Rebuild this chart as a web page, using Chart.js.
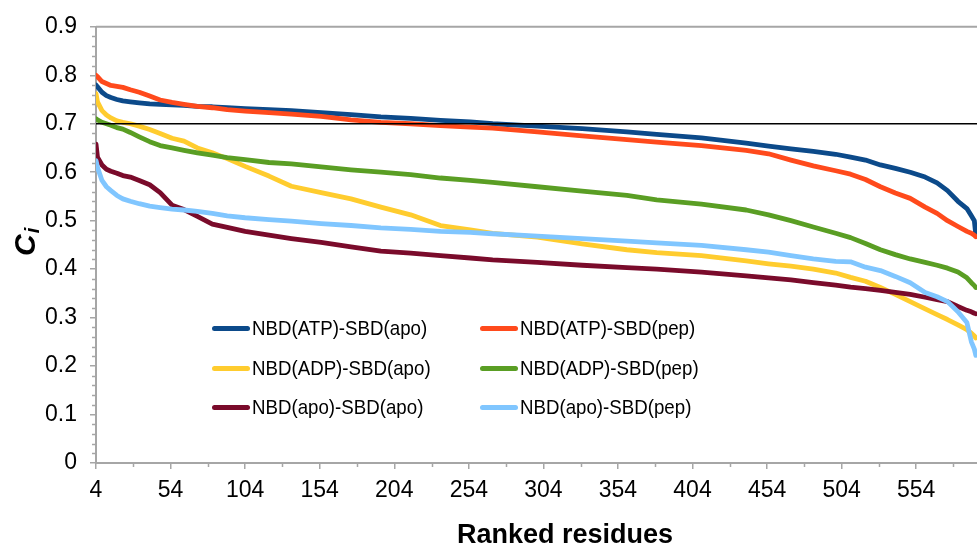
<!DOCTYPE html>
<html>
<head>
<meta charset="utf-8">
<script src="https://cdn.jsdelivr.net/npm/chart.js@4.4.1/dist/chart.umd.min.js"></script>
<style>
  html, body { margin: 0; padding: 0; background: #fff; overflow: hidden; }
  #wrap { position: relative; width: 977px; height: 549px; overflow: hidden; }
  #c { display: block; }
  #legend { position: absolute; left: 0; top: 0; font-family: "Liberation Sans", Arial, sans-serif; font-size: 21px; color: #000; }
  .item { position: absolute; white-space: nowrap; display: flex; align-items: center; height: 30px; }
  .swatch { display: inline-block; width: 38px; height: 5px; border-radius: 3px; margin-right: 2px; }
  .txt { display: inline-block; transform: scaleX(0.89); transform-origin: left center; }
</style>
</head>
<body>
<div id="wrap">
  <canvas id="c" width="1034" height="549"></canvas>
  <div id="legend"></div>
</div>
<script>
// ---------------- data ----------------
const ranks = [4,5,8,11,14,18,22,27,33,40,47,55,63,72,82,92,104,120,135,155,175,195,215,235,255,270,300,330,360,380,410,440,455,470,485,500,510,520,530,540,550,560,568,575,582,588,591,593,594];

const atpApo = [0.780,0.776,0.765,0.758,0.754,0.750,0.747,0.745,0.743,0.741,
                0.740,0.739,0.738,0.736,0.735,0.733,0.731,0.729,0.727,0.723,
                0.719,0.714,0.711,0.707,0.704,0.700,0.695,0.690,0.683,0.678,
                0.671,0.660,0.654,0.648,0.643,0.637,0.631,0.625,0.615,0.608,
                0.600,0.590,0.578,0.562,0.540,0.525,0.510,0.500,0.470];

const atpPep = [0.800,0.797,0.787,0.783,0.779,0.777,0.775,0.770,0.765,0.757,
                0.749,0.744,0.740,0.736,0.733,0.729,0.726,0.723,0.720,0.715,
                0.708,0.703,0.700,0.696,0.693,0.691,0.683,0.675,0.667,0.662,
                0.655,0.645,0.638,0.625,0.613,0.603,0.596,0.585,0.570,0.557,
                0.546,0.528,0.515,0.500,0.488,0.478,0.474,0.470,0.467];

const adpApo = [0.762,0.745,0.727,0.718,0.712,0.706,0.703,0.700,0.695,0.688,
                0.680,0.670,0.664,0.650,0.640,0.628,0.612,0.592,0.571,0.558,
                0.545,0.528,0.512,0.490,0.481,0.474,0.466,0.452,0.440,0.434,
                0.428,0.417,0.411,0.406,0.400,0.392,0.383,0.375,0.362,0.348,
                0.333,0.318,0.306,0.296,0.285,0.275,0.268,0.262,0.258];

const adpPep = [0.710,0.708,0.703,0.700,0.697,0.692,0.689,0.682,0.673,0.663,
                0.655,0.650,0.645,0.640,0.635,0.630,0.626,0.620,0.617,0.611,
                0.605,0.600,0.595,0.588,0.583,0.579,0.570,0.561,0.552,0.543,
                0.534,0.522,0.512,0.500,0.487,0.474,0.465,0.453,0.440,0.430,
                0.421,0.414,0.408,0.402,0.394,0.382,0.372,0.366,0.362];

const apoApo = [0.658,0.631,0.615,0.606,0.602,0.598,0.593,0.590,0.583,0.574,
                0.558,0.532,0.523,0.509,0.493,0.486,0.478,0.470,0.463,0.455,
                0.446,0.437,0.433,0.428,0.423,0.419,0.414,0.408,0.403,0.400,
                0.394,0.386,0.382,0.378,0.372,0.367,0.363,0.360,0.356,0.352,
                0.348,0.342,0.337,0.333,0.323,0.315,0.312,0.309,0.308];

const apoPep = [0.624,0.610,0.583,0.570,0.562,0.552,0.545,0.540,0.535,0.530,
                0.527,0.524,0.522,0.519,0.515,0.510,0.506,0.502,0.499,0.494,
                0.490,0.485,0.482,0.478,0.476,0.473,0.468,0.463,0.458,0.454,
                0.449,0.440,0.435,0.428,0.421,0.416,0.415,0.404,0.397,0.385,
                0.372,0.352,0.343,0.333,0.312,0.290,0.250,0.235,0.222];

const seriesLabels = ['NBD(ATP)-SBD(apo)','NBD(ATP)-SBD(pep)','NBD(ADP)-SBD(apo)','NBD(ADP)-SBD(pep)','NBD(apo)-SBD(apo)','NBD(apo)-SBD(pep)'];
const seriesValues = [atpApo, atpPep, adpApo, adpPep, apoApo, apoPep];
const xTickValues = [4,54,104,154,204,254,304,354,404,454,504,554];
const yTickValues = [0,0.1,0.2,0.3,0.4,0.5,0.6,0.7,0.8,0.9];
const referenceLevel = 0.7;
const xMin = 4, xMax = 633;
const xTitle = 'Ranked residues';
const yTitleMain = 'C', yTitleSub = 'i';

// ---------------- styles ----------------
const seriesColors = ['#0c4a8a','#ff4a1c','#ffcc2e','#5a9e24','#7a0b2b','#80c6ff'];
const axisColor = '#a6a6a6';
const FONT = '"Liberation Sans", Arial, sans-serif';

const datasets = seriesValues.map((vals, i) => ({
  label: seriesLabels[i],
  data: ranks.map((r, j) => ({ x: r, y: vals[j] })),
  borderColor: seriesColors[i],
  backgroundColor: seriesColors[i],
  borderWidth: 4.8,
  pointRadius: 0,
  tension: 0,
  fill: false,
  borderCapStyle: 'round',
  borderJoinStyle: 'round',
  order: 6 - i
}));
datasets.push({
  label: 'reference',
  data: [{ x: xMin, y: referenceLevel }, { x: xMax, y: referenceLevel }],
  borderColor: '#000',
  borderWidth: 1.6,
  pointRadius: 0,
  fill: false,
  order: -1
});

const decor = {
  id: 'decor',
  afterDraw(chart) {
    const { ctx, chartArea: a, scales: { x, y } } = chart;
    ctx.save();
    ctx.strokeStyle = axisColor;
    ctx.lineWidth = 1.5;
    ctx.beginPath();
    // minor x ticks
    for (let i = 0; i < xTickValues.length; i++) {
      const v = xTickValues[i] + 25;
      const px = Math.round(x.getPixelForValue(v)) + 0.5;
      ctx.moveTo(px, a.bottom); ctx.lineTo(px, a.bottom + 4);
    }
    // minor y ticks
    for (let k = 1; k < 45; k++) {
      if (k % 5 === 0) continue;
      const py = Math.round(y.getPixelForValue(k * 0.02)) + 0.5;
      ctx.moveTo(a.left - 4, py); ctx.lineTo(a.left, py);
    }
    ctx.stroke();
    // top border of plot area
    ctx.lineWidth = 2;
    ctx.beginPath();
    ctx.moveTo(a.left, a.top); ctx.lineTo(a.right, a.top);
    ctx.stroke();
    // y title with subscript
    ctx.translate(35, 256);
    ctx.rotate(-Math.PI / 2);
    ctx.fillStyle = '#000';
    ctx.textBaseline = 'alphabetic';
    ctx.textAlign = 'left';
    ctx.font = 'italic bold 30px ' + FONT;
    ctx.fillText(yTitleMain, 0, 0);
    const w = ctx.measureText(yTitleMain).width;
    ctx.font = 'italic bold 20px ' + FONT;
    ctx.fillText(yTitleSub, w + 1, 4);
    ctx.restore();
  }
};

new Chart(document.getElementById('c'), {
  type: 'line',
  data: { datasets },
  options: {
    responsive: false,
    animation: false,
    devicePixelRatio: 1,
    layout: { padding: { top: 26, right: 0, left: 0, bottom: 0 } },
    plugins: { legend: { display: false }, tooltip: { enabled: false } },
    scales: {
      x: {
        type: 'linear',
        min: xMin, max: xMax,
        afterBuildTicks: s => { s.ticks = xTickValues.map(v => ({ value: v })); },
        afterFit: s => { s.height = 86; },
        ticks: { font: { family: FONT, size: 23 }, color: '#000', padding: 8, maxRotation: 0, autoSkip: false, callback: v => String(v) },
        grid: { display: true, drawOnChartArea: false, drawTicks: true, tickLength: 6, color: axisColor, lineWidth: 1.5 },
        border: { display: true, color: axisColor, width: 2 },
        title: { display: true, text: xTitle, color: '#000', font: { family: FONT, size: 27, weight: 'bold', lineHeight: 1 }, padding: { top: 0, bottom: 0 } }
      },
      y: {
        type: 'linear',
        min: 0, max: 0.9,
        afterBuildTicks: s => { s.ticks = yTickValues.map(v => ({ value: v })); },
        afterFit: s => { s.width = 96; },
        ticks: { font: { family: FONT, size: 23 }, color: '#000', padding: 13, callback: v => (v === 0 ? '0' : v.toFixed(1)) },
        grid: { display: true, drawOnChartArea: false, drawTicks: true, tickLength: 6, color: axisColor, lineWidth: 1.5 },
        border: { display: true, color: axisColor, width: 2 }
      }
    }
  },
  plugins: [decor]
});

// HTML legend (two columns, inside plot area)
const legendPos = { colX: [212, 480], rowY: [328, 368, 407] };
const legend = document.getElementById('legend');
seriesLabels.forEach((lab, i) => {
  const it = document.createElement('div');
  it.className = 'item';
  it.style.left = legendPos.colX[i % 2] + 'px';
  it.style.top = (legendPos.rowY[Math.floor(i / 2)] - 15) + 'px';
  const sw = document.createElement('span');
  sw.className = 'swatch';
  sw.style.background = seriesColors[i];
  const tx = document.createElement('span');
  tx.className = 'txt';
  tx.textContent = lab;
  it.appendChild(sw); it.appendChild(tx);
  legend.appendChild(it);
});
</script>
</body>
</html>
